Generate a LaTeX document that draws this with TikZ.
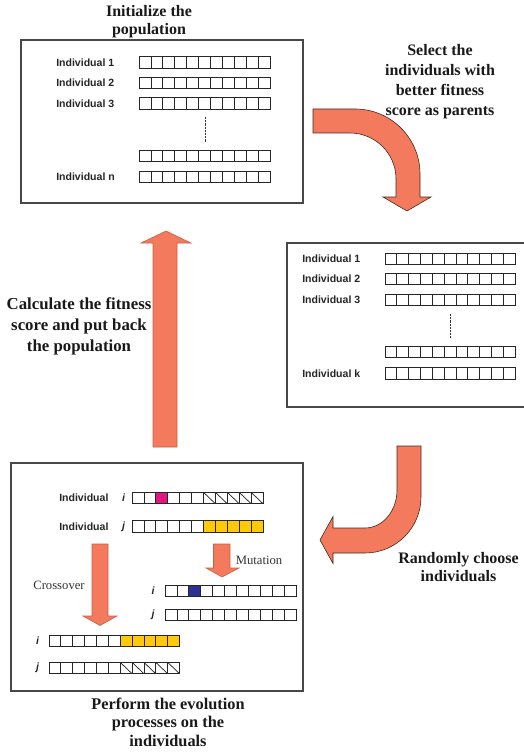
\documentclass[tikz,border=0pt]{standalone}
\usepackage{fontspec}
\setmainfont{Liberation Serif}
\setsansfont{Liberation Sans}
\definecolor{arrowfill}{RGB}{243,122,92}
\definecolor{arrowedge}{RGB}{70,40,30}
\definecolor{arrowedgelight}{RGB}{200,95,70}
\definecolor{genemag}{RGB}{228,20,128}
\definecolor{genenavy}{RGB}{44,50,145}
\definecolor{geneyel}{RGB}{255,200,10}
\tikzset{
  box/.style={draw=black!72, line width=0.8pt},
  cell/.style={draw=black!85, line width=0.55pt},
  bigarrow/.style={fill=arrowfill, draw=arrowedge, line width=0.45pt, line join=miter},
  lightarrow/.style={fill=arrowfill, draw=arrowedgelight, line width=0.45pt, line join=miter},
  ttl/.style={font=\fontsize{12}{13.5}\selectfont\bfseries, text=black!90, align=center, inner sep=0pt, anchor=north},
  indlabel/.style={font=\fontsize{7.9}{9}\selectfont\sffamily\bfseries, text=black!85, inner sep=0pt, anchor=west},
  ijlabel/.style={font=\fontsize{7.9}{9}\selectfont\sffamily\bfseries\itshape, text=black!85, inner sep=0pt},
  oplabel/.style={font=\fontsize{9.5}{11}\selectfont, text=black!80, inner sep=0pt},
  dotline/.style={dash pattern=on 1.6pt off 0.8pt, line width=0.6pt, draw=black!80}
}
\newcommand\gstrip[3]{%
  \foreach \k in {0,...,10}{\draw[cell] ({#1+\k*#3/11},{#2-5.7}) rectangle ({#1+(\k+1)*#3/11},{#2+5.7});}}
\newcommand\gfill[5]{%
  \draw[cell, fill=#5] ({#1+#4*#3/11},{#2-5.7}) rectangle ({#1+(#4+1)*#3/11},{#2+5.7});}
\newcommand\ghatch[4]{%
  \draw[cell] ({#1+#4*#3/11},{#2-5.7}) -- ({#1+(#4+1)*#3/11},{#2+5.7});}
\begin{document}
\begin{tikzpicture}[x=0.75pt,y=-0.75pt]
\useasboundingbox (0,0) rectangle (524,756);

% ---------- Box 1 : population ----------
\draw[box] (21,40) rectangle (303,203);
\node[ttl] (tInit) at (149,5) {Initialize the\\population};
\node[indlabel] (p1) at (56,62.5) {Individual 1};
\node[indlabel] (p2) at (56,83) {Individual 2};
\node[indlabel] (p3) at (56,103.5) {Individual 3};
\node[indlabel] (pn) at (56,177) {Individual n};
\gstrip{139}{62.5}{131}
\gstrip{139}{83}{131}
\gstrip{139}{103.5}{131}
\gstrip{139}{156}{131}
\gstrip{139}{177}{131}
\coordinate (d1a) at (205,117);
\coordinate (d1b) at (205,142);
\draw[dotline] (d1a) -- (d1b);

% ---------- Arrow 1 : selection ----------
\draw[bigarrow] (313,109) -- (355,109)
  .. controls (390.9,109) and (420,138.1) .. (420,174)
  -- (420,197) -- (431,197) -- (407,211) -- (383,197) -- (396,197) -- (396,179)
  .. controls (396,153.6) and (375.4,133) .. (350,133)
  -- (313,133) -- cycle;
\node[ttl, font=\fontsize{12}{15}\selectfont\bfseries] (tSel) at (440,44.5)
  {Select the\\individuals with\\better fitness\\score as parents};

% ---------- Box 2 : parents ----------
\draw[box] (524,243) -- (287,243) -- (287,407) -- (524,407);
\node[indlabel] (k1) at (302,259) {Individual 1};
\node[indlabel] (k2) at (302,279) {Individual 2};
\node[indlabel] (k3) at (302,300) {Individual 3};
\node[indlabel] (kk) at (302,373.5) {Individual k};
\gstrip{385}{259}{130}
\gstrip{385}{279}{130}
\gstrip{385}{300}{130}
\gstrip{385}{352}{130}
\gstrip{385}{373.5}{130}
\coordinate (d2a) at (450,314);
\coordinate (d2b) at (450,338);
\draw[dotline] (d2a) -- (d2b);

% ---------- Arrow 2 : random choice ----------
\draw[bigarrow] (397,446) -- (421,446) -- (421,497)
  .. controls (421,527.9) and (395.9,553) .. (365,553)
  -- (333,553) -- (333,563.5) -- (320,540) -- (333,516.5) -- (333,528) -- (365,528)
  .. controls (382.7,528) and (397,511) .. (397,490) -- cycle;
\node[ttl] (tRand) at (458.5,552) {Randomly choose\\individuals};

% ---------- Arrow 3 : back to population ----------
\draw[lightarrow] (153,447) -- (153,243) -- (141,243) -- (166,231) -- (191,243)
  -- (177,243) -- (177,447) -- cycle;
\node[ttl, font=\fontsize{12.6}{15.75}\selectfont\bfseries] (tCalc) at (79,297.5)
  {Calculate the fitness\\score and put back\\the population};

% ---------- Box 3 : evolution ----------
\draw[box] (11,463) rectangle (303,691);
\node[indlabel] (ei) at (59,498) {Individual};
\node[ijlabel] (eil) at (123.5,498) {i};
\node[indlabel] (ej) at (59,526.5) {Individual};
\node[ijlabel] (ejl) at (123.5,526.5) {j};
% parent i
\gstrip{132}{498}{131}
\gfill{132}{498}{131}{2}{genemag}
\foreach \q in {6,...,10}{\ghatch{132}{498}{131}{\q}}
% parent j
\gstrip{132}{526.5}{131}
\foreach \q in {6,...,10}{\gfill{132}{526.5}{131}{\q}{geneyel}}

% crossover arrow
\draw[lightarrow] (92,544) -- (108,544) -- (108,616) -- (117,616) -- (100,625.5)
  -- (83,616) -- (92,616) -- cycle;
\node[oplabel] (tCross) at (59,585) {Crossover};
% mutation arrow
\draw[lightarrow] (213.5,544) -- (230,544) -- (230,568) -- (239,568) -- (222,577)
  -- (206,568) -- (213.5,568) -- cycle;
\node[oplabel] (tMut) at (259,560) {Mutation};

% mutated offspring
\node[ijlabel] (mil) at (153,591) {i};
\node[ijlabel] (mjl) at (153,615) {j};
\gstrip{165}{591}{131}
\gfill{165}{591}{131}{2}{genenavy}
\gstrip{165}{615}{131}

% crossover offspring
\node[ijlabel] (cil) at (37.5,641) {i};
\node[ijlabel] (cjl) at (37.5,668) {j};
\gstrip{49}{641}{130.5}
\foreach \q in {6,...,10}{\gfill{49}{641}{130.5}{\q}{geneyel}}
\gstrip{49}{668}{130.5}
\foreach \q in {6,...,10}{\ghatch{49}{668}{130.5}{\q}}

\node[ttl, font=\fontsize{12.25}{13.8}\selectfont\bfseries] (tPerf) at (168,697.5)
  {Perform the evolution\\processes on the\\individuals};
\end{tikzpicture}
\end{document}
